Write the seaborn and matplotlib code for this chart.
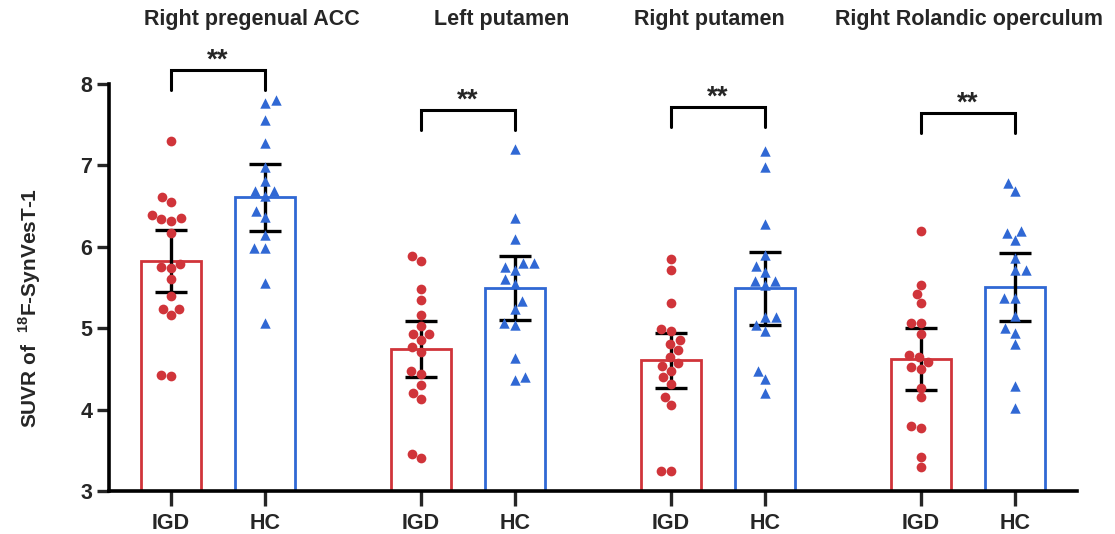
import numpy as np
import pandas as pd
import matplotlib
matplotlib.use("Agg")
import matplotlib.pyplot as plt
import seaborn as sns

# ---------------- data ----------------
REGIONS = ["Right pregenual ACC", "Left putamen", "Right putamen", "Right Rolandic operculum"]
GROUPS = ["IGD", "HC"]

igd_acc = [7.30, 6.61, 6.55, 6.39, 6.35, 6.32, 6.34, 6.17, 5.79, 5.74, 5.75, 5.61,
           5.40, 5.24, 5.23, 5.16, 4.42, 4.41]
hc_acc = [7.77, 7.80, 7.56, 7.28, 6.98, 6.81, 6.68, 6.69, 6.62, 6.44, 6.37, 6.14,
          5.99, 5.99, 5.55, 5.07]

igd_lput = [5.89, 5.83, 5.48, 5.35, 5.16, 5.03, 4.93, 4.93, 4.86, 4.77, 4.71, 4.47,
            4.44, 4.30, 4.21, 4.13, 3.40, 3.46]
hc_lput = [7.20, 6.35, 6.09, 5.80, 5.80, 5.71, 5.75, 5.60, 5.54, 5.33, 5.23, 5.07,
           5.04, 4.64, 4.36, 4.40]

igd_rput = [5.85, 5.71, 5.31, 4.99, 4.96, 4.85, 4.81, 4.73, 4.65, 4.57, 4.54, 4.48,
            4.40, 4.32, 4.16, 4.06, 3.24, 3.24]
hc_rput = [7.18, 6.98, 6.28, 5.90, 5.76, 5.69, 5.58, 5.58, 5.53, 5.14, 5.14, 5.04,
           4.96, 4.47, 4.37, 4.21]

igd_rol = [6.20, 5.53, 5.42, 5.31, 5.07, 5.07, 4.93, 4.67, 4.65, 4.59, 4.52, 4.50,
           4.27, 4.15, 3.78, 3.80, 3.42, 3.30]
hc_rol = [6.78, 6.68, 6.17, 6.19, 6.08, 5.86, 5.72, 5.71, 5.37, 5.37, 5.15, 5.00,
          4.94, 4.80, 4.29, 4.02]

IGD_VALUES = [igd_acc, igd_lput, igd_rput, igd_rol]
HC_VALUES = [hc_acc, hc_lput, hc_rput, hc_rol]
SIG_LABELS = ["**", "**", "**", "**"]
YTICKS = [3, 4, 5, 6, 7, 8]

# ---------------- layout / style ----------------
GROUP_STEP = 2.66          # distance between region groups (in bar units)
BRACKET_TOP = [8.17, 7.68, 7.72, 7.64]
BRACKET_DROP = 0.245
TITLE_X_OFFSET = [0.36, 0.36, -0.09, 0.01]
RED = "#D0343A"
BLUE = "#3068D4"
FONT = "Liberation Sans"

rows = []
for g, region in enumerate(REGIONS):
    for grp, vals in (("IGD", IGD_VALUES[g]), ("HC", HC_VALUES[g])):
        pos = g * GROUP_STEP + (0 if grp == "IGD" else 1)
        for v in vals:
            rows.append({"region": region, "group": grp, "pos": round(pos, 3), "value": v})
df = pd.DataFrame(rows)

T95 = {14: 2.160, 15: 2.145, 16: 2.131, 17: 2.120, 18: 2.110, 19: 2.101, 20: 2.093}


def ci95(v):
    v = np.asarray(v, dtype=float)
    n = len(v)
    m = v.mean()
    h = T95.get(n, 2.1) * v.std(ddof=1) / np.sqrt(n)
    return m - h, m + h


sns.set_theme(style="white")
plt.rcParams["font.family"] = [FONT, "DejaVu Sans"]
plt.rcParams["font.weight"] = "bold"
plt.rcParams["mathtext.fontset"] = "custom"
plt.rcParams["mathtext.rm"] = FONT + ":bold"
plt.rcParams["mathtext.bf"] = FONT + ":bold"

fig = plt.figure(figsize=(11.15, 5.34), dpi=100)
ax = fig.add_axes([109 / 1115, 43 / 534, 968 / 1115, 488.4 / 534])

# bars (outline only)
sns.barplot(data=df, x="pos", y="value", hue="group", hue_order=GROUPS,
            palette={"IGD": RED, "HC": BLUE}, native_scale=True, dodge=False,
            fill=False, width=0.64, linewidth=2.0, errorbar=None, legend=False,
            orient="x", ax=ax)

# error bars (95% CI)
sns.barplot(data=df, x="pos", y="value", native_scale=True, fill=False,
            width=0.64, linewidth=0, color="black", errorbar=ci95, capsize=0.35,
            err_kws={"color": "black", "linewidth": 2.4, "solid_capstyle": "butt"},
            orient="x", ax=ax)

# individual points
sns.swarmplot(data=df[df["group"] == "IGD"], x="pos", y="value", native_scale=True,
              color=RED, marker="o", size=7, linewidth=0, orient="x", ax=ax, zorder=4)
sns.swarmplot(data=df[df["group"] == "HC"], x="pos", y="value", native_scale=True,
              color=BLUE, marker="^", size=7.5, linewidth=0, orient="x", ax=ax, zorder=4)

ax.set_xlim(-0.66, 9.64)
ax.set_ylim(3, 9)

# significance brackets and titles
for g, region in enumerate(REGIONS):
    x0 = g * GROUP_STEP
    x1 = x0 + 1
    top = BRACKET_TOP[g]
    ax.plot([x0, x0, x1, x1], [top - BRACKET_DROP, top, top, top - BRACKET_DROP],
            color="black", linewidth=2.2, clip_on=False, solid_joinstyle="miter")
    ax.text((x0 + x1) / 2, top + 0.03, SIG_LABELS[g], ha="center", va="baseline",
            fontsize=20, fontweight="bold", clip_on=False)
    ax.text(x0 + 0.5 + TITLE_X_OFFSET[g], 8.79, region, ha="center", va="center",
            fontsize=15.5, fontweight="bold", clip_on=False)

# axes styling
xt = []
xl = []
for g in range(len(REGIONS)):
    xt += [g * GROUP_STEP, g * GROUP_STEP + 1]
    xl += GROUPS
ax.set_xticks(xt)
ax.set_xticklabels(xl, fontsize=15.5, fontweight="bold")
ax.set_yticks(YTICKS)
ax.set_yticklabels([str(t) for t in YTICKS], fontsize=15.5, fontweight="bold")
ax.tick_params(axis="x", direction="out", length=11, width=2.4, pad=5, bottom=True)
ax.tick_params(axis="y", direction="out", length=9, width=2.4, pad=3, left=True)

for side in ("top", "right"):
    ax.spines[side].set_visible(False)
for side in ("left", "bottom"):
    ax.spines[side].set_linewidth(2.6)
    ax.spines[side].set_color("black")
ax.spines["left"].set_bounds(3, 8)

ax.set_xlabel("")
ax.set_ylabel(r"SUVR of  $^{18}$F-SynVesT-1", fontsize=15, fontweight="bold")
ax.yaxis.set_label_coords(-0.068, 0.375)

fig.savefig("out.png", dpi=100)
